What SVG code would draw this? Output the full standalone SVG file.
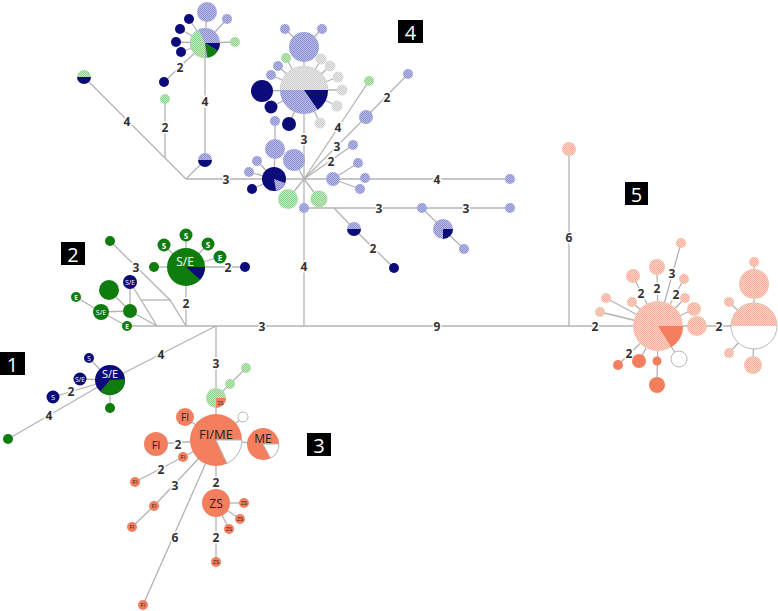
<svg xmlns="http://www.w3.org/2000/svg" width="778" height="611" viewBox="0 0 778 611">
<defs>
<pattern id="pb" width="2" height="2" patternUnits="userSpaceOnUse"><rect width="2" height="2" fill="#b9bbe9"/><rect width="1" height="1" fill="#8c90d1"/><rect x="1" y="1" width="1" height="1" fill="#8c90d1"/></pattern>
<pattern id="pg" width="2" height="2" patternUnits="userSpaceOnUse"><rect width="2" height="2" fill="#c3eabf"/><rect width="1" height="1" fill="#8fd18a"/><rect x="1" y="1" width="1" height="1" fill="#8fd18a"/></pattern>
<pattern id="pgr" width="2" height="2" patternUnits="userSpaceOnUse"><rect width="2" height="2" fill="#e8e8e8"/><rect width="1" height="1" fill="#cdcdcd"/><rect x="1" y="1" width="1" height="1" fill="#cdcdcd"/></pattern>
<pattern id="ps" width="2" height="2" patternUnits="userSpaceOnUse"><rect width="2" height="2" fill="#f9d6c7"/><rect width="1" height="1" fill="#eeb097"/><rect x="1" y="1" width="1" height="1" fill="#eeb097"/></pattern>
</defs>
<style>
.e line,.e polyline{stroke:#b3b3b3;stroke-width:1.3;fill:none}
.nv{fill:#0b0b7a}.hb{fill:url(#pb)}.lg{fill:url(#pg)}.dg{fill:#0e7d0e}.gr{fill:url(#pgr)}
.or{fill:#f47f5f}.sa{fill:url(#ps)}.wh{fill:#fff;stroke:#b8b8b8;stroke-width:1}
.lb{font-family:"Open Sans","Liberation Sans",sans-serif;font-weight:bold;font-size:12px;fill:#333;text-anchor:middle;dominant-baseline:central;stroke:#fff;stroke-width:3;paint-order:stroke}
.nt{font-family:"Open Sans","Liberation Sans",sans-serif;fill:#fff;text-anchor:middle;dominant-baseline:central}
.dt{font-family:"Open Sans","Liberation Sans",sans-serif;fill:#222;text-anchor:middle;dominant-baseline:central}
.bx{fill:#000}
.bt{font-family:"Open Sans","Liberation Sans",sans-serif;font-size:20px;fill:#fff;text-anchor:middle;dominant-baseline:central}
</style>
<rect width="778" height="611" fill="#fff"/>
<g id="edges" class="e">
<line x1="127" y1="326" x2="658" y2="326"/>
<line x1="569" y1="326" x2="569" y2="149"/>
<line x1="304" y1="326" x2="304" y2="90"/>
<line x1="216" y1="326" x2="216" y2="440"/>
<line x1="216" y1="326" x2="110" y2="380"/>
<line x1="186" y1="326" x2="186" y2="267"/>
<line x1="186" y1="267" x2="245" y2="267"/>
<line x1="186" y1="267" x2="186" y2="235"/>
<line x1="186" y1="267" x2="164" y2="245"/>
<line x1="186" y1="267" x2="208" y2="244"/>
<line x1="186" y1="267" x2="220" y2="257"/>
<line x1="186" y1="267" x2="154" y2="267"/>
<polyline points="110,241 170,300 186,326"/>
<line x1="141" y1="300" x2="170" y2="300"/>
<line x1="130" y1="282" x2="157" y2="326"/>
<line x1="130" y1="282" x2="130" y2="311"/>
<line x1="109" y1="290" x2="130" y2="311"/>
<line x1="130" y1="311" x2="157" y2="326"/>
<line x1="101" y1="312" x2="130" y2="311"/>
<line x1="76" y1="297" x2="101" y2="312"/>
<line x1="101" y1="312" x2="127" y2="326"/>
<line x1="110" y1="380" x2="89" y2="358"/>
<line x1="110" y1="380" x2="80" y2="379"/>
<line x1="110" y1="380" x2="53" y2="397"/>
<line x1="110" y1="380" x2="110" y2="408"/>
<line x1="110" y1="380" x2="8" y2="439"/>
<polyline points="216,398 230,384 246,368"/>
<line x1="216" y1="440" x2="243" y2="417"/>
<line x1="216" y1="440" x2="185" y2="417"/>
<line x1="216" y1="440" x2="156" y2="444"/>
<line x1="216" y1="440" x2="263" y2="444"/>
<polyline points="216,440 183,457 135,482"/>
<polyline points="216,440 154,506 132,527"/>
<line x1="216" y1="440" x2="143" y2="605"/>
<line x1="216" y1="440" x2="216" y2="562"/>
<line x1="216" y1="503" x2="244" y2="503"/>
<line x1="216" y1="503" x2="240" y2="519"/>
<line x1="216" y1="503" x2="229" y2="529"/>
<line x1="304" y1="179" x2="186" y2="179"/>
<line x1="186" y1="179" x2="84" y2="77"/>
<line x1="165" y1="158" x2="165" y2="99"/>
<polyline points="186,179 205,160 205,43"/>
<line x1="205" y1="43" x2="207" y2="12"/>
<line x1="205" y1="43" x2="227" y2="19"/>
<line x1="205" y1="43" x2="235" y2="42"/>
<line x1="205" y1="43" x2="189" y2="19"/>
<line x1="205" y1="43" x2="180" y2="29"/>
<line x1="205" y1="43" x2="176" y2="42"/>
<line x1="205" y1="43" x2="181" y2="52"/>
<line x1="205" y1="43" x2="164" y2="82"/>
<line x1="304" y1="90" x2="304" y2="47"/>
<line x1="304" y1="47" x2="285" y2="29"/>
<line x1="304" y1="47" x2="322" y2="29"/>
<line x1="304" y1="90" x2="286" y2="58"/>
<line x1="304" y1="90" x2="278" y2="66"/>
<line x1="304" y1="90" x2="271" y2="75"/>
<line x1="304" y1="90" x2="321" y2="59"/>
<line x1="304" y1="90" x2="330" y2="66"/>
<line x1="304" y1="90" x2="338" y2="77"/>
<line x1="304" y1="90" x2="342" y2="90"/>
<line x1="304" y1="90" x2="337" y2="106"/>
<line x1="304" y1="90" x2="320" y2="123"/>
<line x1="304" y1="90" x2="262" y2="91"/>
<line x1="304" y1="90" x2="271" y2="107"/>
<line x1="304" y1="90" x2="289" y2="124"/>
<polyline points="274,179 275,149 275,121"/>
<line x1="304" y1="179" x2="294" y2="160"/>
<line x1="274" y1="179" x2="257" y2="161"/>
<line x1="274" y1="179" x2="249" y2="172"/>
<line x1="274" y1="179" x2="252" y2="189"/>
<line x1="304" y1="179" x2="288" y2="199"/>
<line x1="304" y1="179" x2="319" y2="199"/>
<line x1="304" y1="208" x2="510" y2="208"/>
<polyline points="334,208 354,229 394,268"/>
<polyline points="422,208 443,229 464,249"/>
<line x1="304" y1="179" x2="510" y2="179"/>
<line x1="333" y1="179" x2="358" y2="163"/>
<line x1="333" y1="179" x2="360" y2="189"/>
<line x1="304" y1="179" x2="353" y2="145"/>
<polyline points="304,179 366,117 408,74"/>
<line x1="304" y1="179" x2="369" y2="81"/>
<line x1="658" y1="326" x2="681" y2="243"/>
<line x1="658" y1="326" x2="657" y2="267"/>
<line x1="658" y1="326" x2="633" y2="276"/>
<line x1="658" y1="326" x2="684" y2="279"/>
<line x1="658" y1="326" x2="685" y2="298"/>
<line x1="658" y1="326" x2="694" y2="309"/>
<line x1="658" y1="326" x2="754" y2="326"/>
<line x1="658" y1="326" x2="632" y2="302"/>
<line x1="658" y1="326" x2="606" y2="298"/>
<line x1="658" y1="326" x2="600" y2="312"/>
<line x1="658" y1="326" x2="618" y2="365"/>
<line x1="658" y1="326" x2="639" y2="361"/>
<line x1="658" y1="326" x2="657" y2="385"/>
<line x1="658" y1="326" x2="679" y2="359"/>
<line x1="754" y1="326" x2="754" y2="262"/>
<line x1="754" y1="326" x2="729" y2="302"/>
<line x1="754" y1="326" x2="729" y2="353"/>
<line x1="754" y1="326" x2="753" y2="365"/>
</g>
<g id="edge-labels">
<text class="lb" x="262" y="326">3</text>
<text class="lb" x="437" y="326">9</text>
<text class="lb" x="595" y="326">2</text>
<text class="lb" x="569" y="237">6</text>
<text class="lb" x="304" y="266">4</text>
<text class="lb" x="186" y="303">2</text>
<text class="lb" x="136" y="267">3</text>
<text class="lb" x="228" y="267">2</text>
<text class="lb" x="161" y="354">4</text>
<text class="lb" x="71" y="391">2</text>
<text class="lb" x="49" y="415">4</text>
<text class="lb" x="216" y="363">3</text>
<text class="lb" x="178" y="444">2</text>
<text class="lb" x="161" y="469">2</text>
<text class="lb" x="175" y="485">3</text>
<text class="lb" x="175" y="537">6</text>
<text class="lb" x="216" y="482">2</text>
<text class="lb" x="216" y="537">2</text>
<text class="lb" x="226" y="179">3</text>
<text class="lb" x="127" y="121">4</text>
<text class="lb" x="165" y="127">2</text>
<text class="lb" x="205" y="101">4</text>
<text class="lb" x="180" y="67">2</text>
<text class="lb" x="304" y="139">3</text>
<text class="lb" x="338" y="127">4</text>
<text class="lb" x="337" y="146">3</text>
<text class="lb" x="331" y="161">2</text>
<text class="lb" x="387" y="97">2</text>
<text class="lb" x="437" y="179">4</text>
<text class="lb" x="379" y="208">3</text>
<text class="lb" x="466" y="208">3</text>
<text class="lb" x="373" y="248">2</text>
<text class="lb" x="672" y="273">3</text>
<text class="lb" x="657" y="288">2</text>
<text class="lb" x="641" y="293">2</text>
<text class="lb" x="676" y="294">2</text>
<text class="lb" x="719" y="326">2</text>
<text class="lb" x="629" y="353">2</text>
</g>
<g id="box1"><rect class="bx" x="0" y="352" width="25" height="23"/><text class="bt" x="12.5" y="364">1</text></g>
<g id="box2"><rect class="bx" x="61" y="242" width="24" height="23"/><text class="bt" x="73" y="254">2</text></g>
<g id="box3"><rect class="bx" x="307" y="433" width="24" height="23"/><text class="bt" x="319" y="445">3</text></g>
<g id="box4"><rect class="bx" x="398" y="20" width="25" height="23"/><text class="bt" x="410.5" y="32">4</text></g>
<g id="box5"><rect class="bx" x="625" y="182" width="23" height="23"/><text class="bt" x="636.5" y="194">5</text></g>
<g id="tl1"><path class="lg" d="M77,77 A7,7 0 0 1 91,77 Z"/><path class="nv" d="M77,77 A7,7 0 0 0 91,77 Z"/></g>
<g id="tl2"><circle class="lg" cx="165" cy="99" r="5"/></g>
<g id="tl3"><path class="hb" d="M198,160 A7,7 0 0 1 212,160 Z"/><path class="nv" d="M198,160 A7,7 0 0 0 212,160 Z"/></g>
<g id="tl4"><circle class="hb" cx="205" cy="43" r="15"/><path class="lg" d="M205,43 L205,58 A15,15 0 0 1 198.66,29.41 Z"/><path class="nv" d="M205,43 L220,43 A15,15 0 0 1 217.72,50.95 Z"/><path class="dg" d="M205,43 L217.72,50.95 A15,15 0 0 1 207.6,57.77 Z"/></g>
<g id="tl5"><circle class="hb" cx="207" cy="12" r="10"/></g>
<g id="tl6"><circle class="hb" cx="227" cy="19" r="5"/></g>
<g id="tl7"><circle class="lg" cx="235" cy="42" r="5"/></g>
<g id="tl8"><circle class="nv" cx="189" cy="19" r="5"/></g>
<g id="tl9"><circle class="nv" cx="180" cy="29" r="5"/></g>
<g id="tl10"><circle class="nv" cx="176" cy="42" r="5"/></g>
<g id="tl11"><circle class="nv" cx="181" cy="52" r="5"/></g>
<g id="tl12"><circle class="nv" cx="164" cy="82" r="5"/></g>
<g id="c4a"><circle class="hb" cx="304" cy="90" r="24"/><path class="gr" d="M280,90 A24,24 0 0 1 328,90 Z"/><path class="nv" d="M304,90 L328,90 A24,24 0 0 1 317.77,109.66 Z"/></g>
<g id="c4b"><circle class="hb" cx="304" cy="47" r="15"/></g>
<g id="c4c"><circle class="hb" cx="285" cy="29" r="5"/></g>
<g id="c4d"><circle class="hb" cx="322" cy="29" r="5"/></g>
<g id="c4e"><circle class="lg" cx="286" cy="58" r="5"/></g>
<g id="c4f"><circle class="hb" cx="278" cy="66" r="5"/></g>
<g id="c4g"><circle class="hb" cx="271" cy="75" r="5"/></g>
<g id="c4h"><circle class="gr" cx="321" cy="59" r="5.5"/></g>
<g id="c4i"><circle class="gr" cx="330" cy="66" r="5.5"/></g>
<g id="c4j"><circle class="gr" cx="338" cy="77" r="5.5"/></g>
<g id="c4k"><circle class="gr" cx="342" cy="90" r="5.5"/></g>
<g id="c4l"><circle class="gr" cx="337" cy="106" r="5.5"/></g>
<g id="c4m"><circle class="gr" cx="320" cy="123" r="5.5"/></g>
<g id="c4n"><circle class="nv" cx="262" cy="91" r="11"/></g>
<g id="c4o"><circle class="nv" cx="271" cy="107" r="6.5"/></g>
<g id="c4p"><circle class="nv" cx="289" cy="124" r="7"/></g>
<g id="c4q"><circle class="hb" cx="275" cy="121" r="5"/></g>
<g id="c4r"><circle class="hb" cx="275" cy="149" r="10"/></g>
<g id="c4s"><circle class="hb" cx="294" cy="160" r="11"/></g>
<g id="c4t"><circle class="nv" cx="274" cy="179" r="12"/><path class="hb" d="M274,179 L285.28,183.1 A12,12 0 0 1 276.08,190.82 Z"/></g>
<g id="c4u"><circle class="hb" cx="257" cy="161" r="5"/></g>
<g id="c4v"><circle class="hb" cx="249" cy="172" r="5"/></g>
<g id="c4w"><circle class="nv" cx="252" cy="189" r="5"/></g>
<g id="c4x"><circle class="lg" cx="288" cy="199" r="10"/></g>
<g id="c4y"><circle class="lg" cx="319" cy="199" r="8.5"/></g>
<g id="c4z"><circle class="hb" cx="304" cy="208" r="5"/></g>
<g id="c4aa"><circle class="hb" cx="333" cy="179" r="7"/></g>
<g id="c4ab"><circle class="hb" cx="358" cy="163" r="5"/></g>
<g id="c4ac"><circle class="hb" cx="365" cy="178" r="5"/></g>
<g id="c4ad"><circle class="hb" cx="360" cy="189" r="5"/></g>
<g id="c4ae"><circle class="hb" cx="353" cy="145" r="5"/></g>
<g id="c4af"><circle class="hb" cx="366" cy="117" r="7"/></g>
<g id="c4ag"><circle class="hb" cx="408" cy="74" r="5"/></g>
<g id="c4ah"><circle class="lg" cx="369" cy="81" r="5"/></g>
<g id="c4ai"><circle class="hb" cx="510" cy="179" r="5"/></g>
<g id="c4aj"><circle class="hb" cx="422" cy="208" r="5"/></g>
<g id="c4ak"><circle class="hb" cx="510" cy="208" r="5"/></g>
<g id="c4al"><circle class="hb" cx="443" cy="229" r="10"/><path class="nv" d="M443,229 L453,229 A10,10 0 0 1 443,239 Z"/></g>
<g id="c4am"><circle class="hb" cx="464" cy="249" r="5"/></g>
<g id="c4an"><path class="hb" d="M347,229 A7,7 0 0 1 361,229 Z"/><path class="nv" d="M347,229 A7,7 0 0 0 361,229 Z"/></g>
<g id="c4ao"><circle class="nv" cx="394" cy="268" r="5"/></g>
<g id="c2a"><circle class="dg" cx="186" cy="267" r="19"/><path class="nv" d="M186,267 L205,267 A19,19 0 0 1 200.12,279.71 Z"/><text class="nt" x="185" y="261" font-size="12">S/E</text></g>
<g id="c2b"><circle class="dg" cx="186" cy="235" r="6.5"/><text class="nt" x="186" y="235" font-size="8" font-weight="bold">S</text></g>
<g id="c2c"><circle class="dg" cx="164" cy="245" r="6.5"/><text class="nt" x="164" y="245" font-size="8" font-weight="bold">S</text></g>
<g id="c2d"><circle class="dg" cx="208" cy="244" r="6.5"/><text class="nt" x="208" y="244" font-size="8" font-weight="bold">S</text></g>
<g id="c2e"><circle class="dg" cx="220" cy="257" r="6.5"/><text class="nt" x="220" y="257" font-size="8" font-weight="bold">E</text></g>
<g id="c2f"><circle class="dg" cx="154" cy="267" r="5"/></g>
<g id="c2g"><circle class="nv" cx="245" cy="267" r="5"/></g>
<g id="c2h"><circle class="dg" cx="110" cy="241" r="5"/></g>
<g id="c2i"><circle class="nv" cx="130" cy="282" r="7"/><text class="nt" x="130" y="282" font-size="6.5">S/E</text></g>
<g id="c2j"><circle class="dg" cx="109" cy="290" r="10"/></g>
<g id="c2k"><circle class="dg" cx="101" cy="312" r="8"/><text class="nt" x="101" y="312" font-size="7">S/E</text></g>
<g id="c2l"><circle class="dg" cx="76" cy="297" r="5"/><text class="nt" x="76" y="297" font-size="6.5" font-weight="bold">E</text></g>
<g id="c2m"><circle class="dg" cx="130" cy="311" r="7"/></g>
<g id="c2n"><circle class="dg" cx="127" cy="326" r="5"/><text class="nt" x="127" y="326" font-size="6.5" font-weight="bold">E</text></g>
<g id="c1a"><circle class="nv" cx="110" cy="380" r="15"/><path class="dg" d="M110,380 L124.98,379.21 A15,15 0 0 1 100.36,391.49 Z"/><text class="nt" x="110" y="373" font-size="11">S/E</text></g>
<g id="c1b"><circle class="nv" cx="89" cy="358" r="5"/><text class="nt" x="89" y="358" font-size="6.5">S</text></g>
<g id="c1c"><circle class="nv" cx="80" cy="379" r="6.5"/><text class="nt" x="80" y="379" font-size="6.5">S/E</text></g>
<g id="c1d"><circle class="nv" cx="53" cy="397" r="6.5"/><text class="nt" x="53" y="397" font-size="7.5">S</text></g>
<g id="c1e"><circle class="dg" cx="110" cy="408" r="5"/></g>
<g id="c1f"><circle class="dg" cx="8" cy="439" r="5"/></g>
<g id="c3a"><circle class="lg" cx="216" cy="398" r="10"/><path class="or" d="M216,398 L226,398 A10,10 0 0 1 216,408 Z"/><text class="dt" x="220.5" y="403" font-size="5.5">ZS</text></g>
<g id="c3b"><circle class="lg" cx="230" cy="384" r="5"/></g>
<g id="c3c"><circle class="lg" cx="246" cy="368" r="5"/></g>
<g id="c3d"><circle class="or" cx="216" cy="440" r="26"/><path class="wh" d="M216,440 L242,440 A26,26 0 0 1 226.99,463.56 Z"/><text class="dt" x="216" y="434" font-size="13">FI/ME</text></g>
<g id="c3e"><circle class="wh" cx="243" cy="417" r="5"/></g>
<g id="c3f"><circle class="or" cx="185" cy="417" r="9"/><text class="dt" x="185" y="417" font-size="10">FI</text></g>
<g id="c3g"><circle class="or" cx="156" cy="444" r="12"/><text class="dt" x="156" y="444" font-size="11">FI</text></g>
<g id="c3h"><circle class="or" cx="263" cy="444" r="16"/><path class="wh" d="M263,444 L279,444 A16,16 0 0 1 270.51,458.13 Z"/><text class="dt" x="263" y="438" font-size="12">ME</text></g>
<g id="c3i"><circle class="or" cx="183" cy="457" r="5"/><text class="dt" x="183" y="457" font-size="6">FI</text></g>
<g id="c3j"><circle class="or" cx="135" cy="482" r="5"/><text class="dt" x="135" y="482" font-size="6">FI</text></g>
<g id="c3k"><circle class="or" cx="154" cy="506" r="5"/><text class="dt" x="154" y="506" font-size="6">FI</text></g>
<g id="c3l"><circle class="or" cx="132" cy="527" r="5"/><text class="dt" x="132" y="527" font-size="6">FI</text></g>
<g id="c3m"><circle class="or" cx="143" cy="605" r="5"/><text class="dt" x="143" y="605" font-size="6">FI</text></g>
<g id="c3n"><circle class="or" cx="216" cy="503" r="14"/><text class="dt" x="216" y="503" font-size="12">ZS</text></g>
<g id="c3o"><circle class="or" cx="244" cy="503" r="5"/><text class="dt" x="244" y="503" font-size="6">ZS</text></g>
<g id="c3p"><circle class="or" cx="240" cy="519" r="5"/><text class="dt" x="240" y="519" font-size="6">ZS</text></g>
<g id="c3q"><circle class="or" cx="229" cy="529" r="5"/><text class="dt" x="229" y="529" font-size="6">ZS</text></g>
<g id="c3r"><circle class="or" cx="216" cy="562" r="5"/><text class="dt" x="216" y="562" font-size="6">ZS</text></g>
<g id="c5top"><circle class="sa" cx="569" cy="149" r="7"/></g>
<g id="c5a"><circle class="sa" cx="658" cy="326" r="25"/><path class="or" d="M658,326 L683,326 A25,25 0 0 1 671.25,347.2 Z"/></g>
<g id="c5b"><circle class="sa" cx="681" cy="243" r="5"/></g>
<g id="c5c"><circle class="sa" cx="657" cy="267" r="8"/></g>
<g id="c5d"><circle class="sa" cx="633" cy="276" r="7"/></g>
<g id="c5e"><circle class="sa" cx="684" cy="279" r="5"/></g>
<g id="c5f"><circle class="sa" cx="685" cy="298" r="5"/></g>
<g id="c5g"><circle class="sa" cx="694" cy="309" r="7"/></g>
<g id="c5h"><circle class="sa" cx="697" cy="326" r="10"/></g>
<g id="c5i"><circle class="sa" cx="632" cy="302" r="5"/></g>
<g id="c5j"><circle class="sa" cx="606" cy="298" r="5"/></g>
<g id="c5k"><circle class="sa" cx="600" cy="312" r="5"/></g>
<g id="c5l"><circle class="or" cx="618" cy="365" r="5"/></g>
<g id="c5m"><circle class="or" cx="639" cy="361" r="7"/></g>
<g id="c5n"><circle class="or" cx="657" cy="361" r="4.5"/></g>
<g id="c5o"><circle class="or" cx="657" cy="385" r="8"/></g>
<g id="c5p"><circle class="wh" cx="679" cy="359" r="8"/></g>
<g id="c5q"><circle class="wh" cx="754" cy="326" r="23"/><path class="sa" d="M731,326 A23,23 0 0 1 777,326 Z"/></g>
<g id="c5r"><circle class="sa" cx="754" cy="284" r="15"/></g>
<g id="c5s"><circle class="sa" cx="754" cy="262" r="5"/></g>
<g id="c5t"><circle class="sa" cx="729" cy="302" r="5"/></g>
<g id="c5u"><circle class="sa" cx="729" cy="353" r="5"/></g>
<g id="c5v"><circle class="sa" cx="753" cy="365" r="9"/></g>
</svg>
